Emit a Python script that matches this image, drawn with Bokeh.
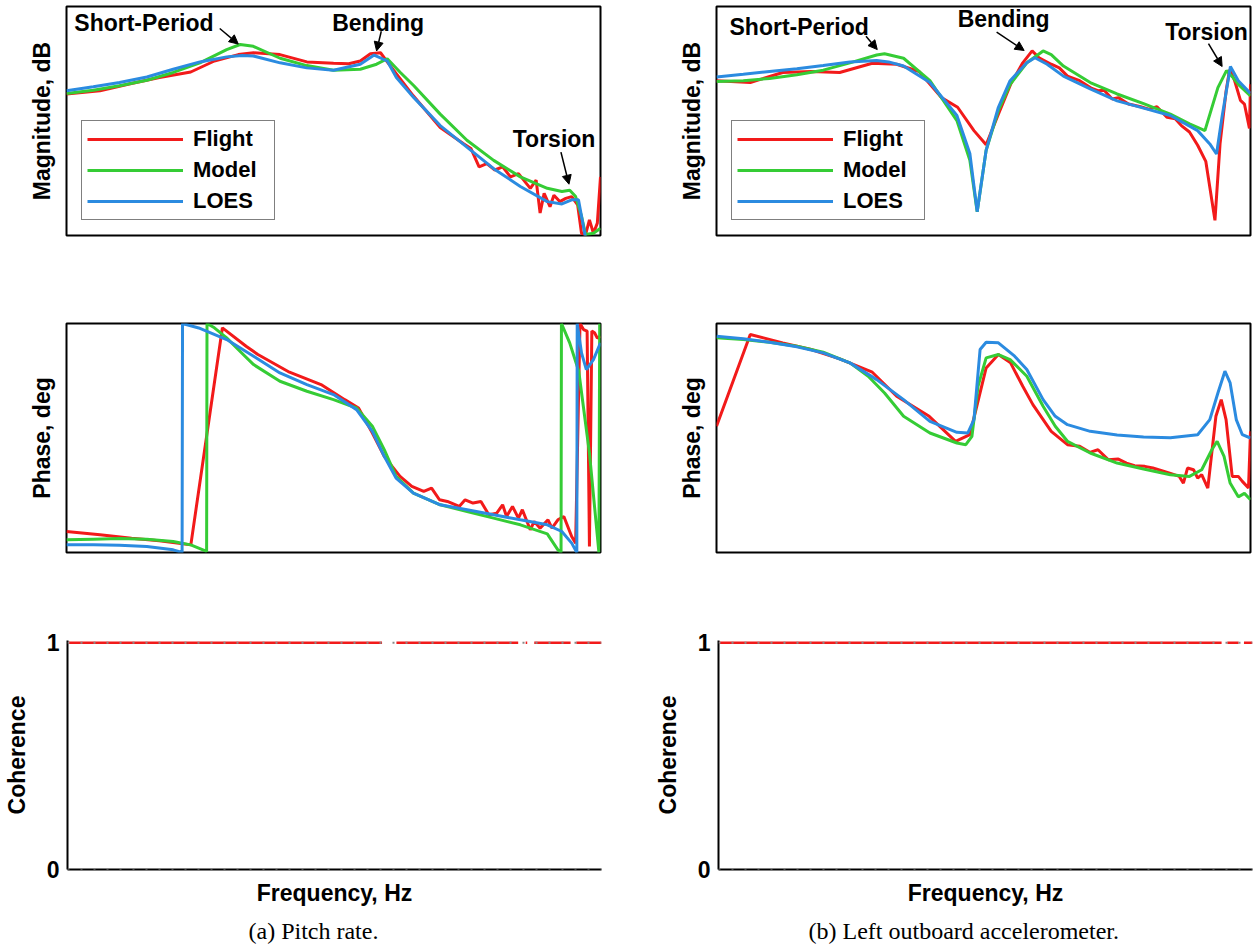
from bokeh.plotting import figure
from bokeh.layouts import column, row
from bokeh.models import (Range1d, Legend, LegendItem, Label, Arrow, NormalHead,
                          Span, Title, FixedTicker)
from bokeh.embed import file_html
from bokeh.resources import INLINE

NaN = float("nan")

# ---------------- (a) Pitch rate: magnitude (dB) ----------------
a_mag_flight_f = [0.1, 0.1335, 0.175, 0.223, 0.292, 0.358, 0.44, 0.502, 0.630, 0.795, 1.0, 1.14, 1.26,
                  1.375, 1.50, 1.60, 1.99, 2.51, 3.06, 3.27, 3.51, 3.75, 4.02, 4.30, 4.60, 4.93, 5.46,
                  5.74, 5.94, 6.15, 6.47, 6.69, 7.04, 7.41, 7.80, 8.21, 8.49, 8.79, 9.09, 9.41, 9.73, 10.0]
a_mag_flight = [-19.1, -18.4, -16.8, -15.5, -14.3, -11.9, -10.5, -10.1, -10.5, -12.1, -12.4, -12.5, -11.9,
                -10.3, -10.1, -12.3, -19.5, -26.4, -29.9, -31.0, -35.0, -34.3, -35.7, -35.0, -37.2, -36.5,
                -39.7, -37.9, -45.1, -40.8, -43.7, -41.2, -42.6, -41.9, -41.5, -43.3, -49.5, -49.8, -46.6,
                -49.5, -47.3, -37.2]
a_mag_model_f = [0.1, 0.126, 0.158, 0.2, 0.251, 0.316, 0.398, 0.447, 0.501, 0.631, 0.794, 1.0, 1.26, 1.45,
                 1.59, 1.78, 2.0, 2.51, 3.16, 3.98, 5.01, 6.32, 7.17, 7.67, 8.07, 8.49, 8.79, 9.41, 10.0]
a_mag_model = [-19.0, -18.3, -17.3, -16.1, -14.4, -12.3, -9.4, -8.3, -8.7, -11.3, -12.9, -13.9, -13.7, -12.6,
               -11.4, -14.4, -17.3, -23.5, -29.2, -33.6, -37.2, -39.7, -40.4, -40.1, -41.5, -45.8, -49.8,
               -49.5, -48.4]
a_mag_loes_f = [0.1, 0.126, 0.158, 0.2, 0.251, 0.316, 0.398, 0.455, 0.501, 0.631, 0.794, 1.0, 1.26, 1.42,
                1.59, 1.72, 2.0, 2.51, 3.16, 3.98, 5.01, 6.32, 7.17, 7.80, 8.27, 8.49, 8.79, 10.0]
a_mag_loes = [-18.4, -17.5, -16.6, -15.4, -13.7, -12.1, -11.0, -10.7, -10.8, -12.3, -13.4, -13.9, -12.6,
              -10.6, -11.9, -15.5, -19.9, -26.0, -30.7, -35.4, -39.3, -42.6, -43.1, -42.2, -42.2, -45.8,
              -50.5, -53.0]

# ---------------- (a) Pitch rate: phase (deg) ----------------
a_ph_flight_f = [0.1, 0.1335, 0.1753, 0.2226, 0.2922, 0.3836, 0.4706, 0.521, 0.684, 0.898, 1.102, 1.241,
                 1.398, 1.549, 1.775, 1.965, 2.177, 2.33, 2.494, 2.670, 2.957, 3.112, 3.331, 3.566, 3.817,
                 4.086, 4.30, 4.448, 4.682, 4.927, 5.097, 5.457, 5.645, 5.94, 6.36, 6.58, 6.925, 7.29, 7.80,
                 8.07, 8.38, 8.64, 8.91, 9.09, 9.28, 9.50, 9.73, 10.0]
a_ph_flight = [-147, -152.2, -157.5, -161.7, -168, 173.2, 144.3, 131.2, 103.4, 84, 60.3, 47.2, 7.9, -28.9,
               -60.4, -76.1, -84, -78.7, -97.1, -99.7, -107.6, -97.1, -102.3, -99.7, -120.7, -118.1, -105,
               -123.3, -107.6, -126, -112.8, -144.3, -131.2, -141.7, -128.6, -141.7, -128.6, -123.3, -154.8,
               -165.3, 180, 170.5, 168, -170.6, 168, 165.4, 157, 160]
a_ph_model_f = [0.1, 0.126, 0.158, 0.2, 0.251, 0.292, 0.3348, 0.3359, 0.358, 0.398, 0.4395, 0.502, 0.630,
                0.795, 1.0, 1.22, 1.398, 1.549, 1.715, 1.992, 2.51, 3.165, 3.976, 5.01, 6.32, 6.925, 7.116,
                7.14, 7.667, 8.29, 9.09, 9.865, 9.93]
a_ph_model = [-160.1, -159.0, -158.0, -159.0, -162.7, -168.0, -178.4, 180, 173.2, 157.4, 139.1, 115.4, 89.2,
              73.5, 60.3, 47.2, 18.4, -18.4, -60.4, -86.6, -105.0, -115.5, -126.0, -136.5, -150.6, -175.8,
              -180, 180, 149.6, 105.0, -23.6, -180, 180]
a_ph_loes_f = [0.1, 0.126, 0.158, 0.2, 0.251, 0.271, 0.272, 0.3128, 0.398, 0.502, 0.630, 0.795, 1.0, 1.22,
               1.398, 1.549, 1.715, 1.992, 2.51, 3.165, 3.976, 5.01, 6.32, 7.165, 7.80, 8.153, 8.18, 8.49,
               8.85, 9.41, 10.0]
a_ph_loes = [-168, -168, -168.5, -170.6, -175.8, -180, 180, 173, 154.8, 128.6, 102.3, 84, 68.2, 44.6, 10.5,
             -28.9, -63, -86.6, -105, -112.8, -120.7, -128.6, -136.5, -147, -165.3, -180, 180, 133.8, 107.6,
             123.3, 149.6]

# ---------------- (a) coherence ----------------
a_coh_f = [0.1, 1.507, 1.51, 1.706, 4.875, 4.9, 5.20, 5.27, 5.3, 5.60, 7.66, 7.7, 8.05, 10.0]
a_coh = [1, 1, NaN, 1, 1, NaN, 1, 1, NaN, 1, 1, NaN, 1, 1]

# ---------------- (b) Left outboard accelerometer: magnitude ----------------
b_mag_flight_f = [0.1, 0.1338, 0.177, 0.2264, 0.2893, 0.3833, 0.473, 0.5736, 0.6956, 0.80, 0.921, 1.023,
                  1.137, 1.263, 1.403, 1.521, 1.614, 1.793, 1.923, 2.063, 2.292, 2.546, 2.684, 2.83, 3.034,
                  3.199, 3.491, 3.879, 4.161, 4.463, 4.872, 5.226, 5.508, 5.908, 6.34, 6.80, 7.36, 7.69,
                  8.10, 8.35, 8.7, 9.17, 9.49, 9.91, 10.0]
b_mag_flight = [-16.2, -16.6, -14.4, -14.2, -14.4, -12.4, -12.6, -14.2, -19.9, -22.0, -27.1, -30.2, -23.5,
                -17.0, -12.3, -9.7, -11.2, -12.6, -13.4, -15.2, -16.2, -17.9, -18.4, -18.3, -20.2, -19.9,
                -21.3, -21.9, -22.4, -21.9, -24.2, -24.5, -26.0, -27.4, -30.3, -33.8, -46.7, -30.0, -18.5,
                -13.8, -16.0, -20.5, -21.3, -26.6, -17.0]
b_mag_model_f = [0.1, 0.126, 0.158, 0.2, 0.251, 0.316, 0.398, 0.426, 0.502, 0.630, 0.795, 0.889, 0.947,
                 1.023, 1.137, 1.258, 1.453, 1.672, 1.793, 1.992, 2.51, 3.165, 3.976, 5.01, 5.91, 6.75,
                 7.55, 8.13, 8.6, 9.0, 10.0]
b_mag_model = [-16.4, -16.2, -15.7, -14.9, -13.9, -12.3, -10.6, -10.3, -11.3, -16.2, -24.9, -33.6, -44.8,
               -31.4, -22.7, -17.0, -12.3, -9.7, -10.5, -13.0, -16.6, -19.1, -21.2, -23.5, -25.6, -27.1,
               -17.7, -14.0, -15.5, -17.0, -19.5]
b_mag_loes_f = [0.1, 0.126, 0.158, 0.2, 0.251, 0.316, 0.398, 0.441, 0.502, 0.630, 0.795, 0.889, 0.947,
                1.023, 1.137, 1.258, 1.453, 1.558, 1.731, 1.992, 2.51, 3.165, 3.976, 5.01, 6.34, 7.04, 7.46,
                7.82, 8.41, 9.0, 10.0]
b_mag_loes = [-15.4, -14.8, -14.2, -13.6, -12.9, -12.1, -11.8, -12.1, -13.0, -16.6, -23.8, -32.1, -44.8,
              -31.4, -22.0, -16.2, -12.3, -11.2, -12.6, -15.2, -18.0, -20.6, -22.2, -23.8, -27.1, -30.0,
              -32.2, -24.2, -13.1, -16.2, -19.0]

# ---------------- (b) phase ----------------
b_ph_flight_f = [0.1, 0.1338, 0.177, 0.2264, 0.2893, 0.3833, 0.473, 0.626, 0.786, 0.889, 1.023, 1.137,
                 1.263, 1.403, 1.531, 1.793, 2.063, 2.292, 2.502, 2.684, 2.93, 3.199, 3.43, 3.68, 4.018,
                 4.31, 4.62, 5.05, 5.41, 5.607, 5.81, 6.12, 6.34, 6.565, 6.92, 7.42, 7.77, 8.10, 8.54, 9.0,
                 9.32, 9.83, 10.0]
b_ph_flight = [18.4, 162.7, 149.6, 139.1, 124.4, 103.4, 65.6, 34.1, -5.2, 5.2, 110.2, 131.2, 118.1, 81.3,
               52.5, 10.5, -10.5, -13.1, -22.5, -18.4, -34.1, -33.1, -39.4, -43.6, -44.6, -47.2, -50.9,
               -56.1, -60.4, -70.9, -47.2, -49.9, -63, -57.7, -78.7, 34.1, 60.3, 28.9, -60.4, -60.4, -68.2,
               -78.7, 10.5]
b_ph_model_f = [0.1, 0.126, 0.158, 0.2, 0.251, 0.316, 0.370, 0.426, 0.502, 0.630, 0.795, 0.8585, 0.905,
                0.954, 1.023, 1.137, 1.258, 1.453, 1.672, 1.857, 2.063, 2.51, 3.165, 3.976, 5.01, 5.908,
                6.565, 7.165, 7.50, 7.96, 8.39, 9.0, 9.49, 10.0]
b_ph_model = [157.4, 154.8, 150.6, 144.3, 134.8, 118.1, 97.1, 70.8, 34.1, 7.9, -7.9, -10.5, 2.6, 81.3,
              125.9, 131.2, 123.3, 97.1, 50.0, 18.4, -5.2, -23.6, -39.4, -48.8, -57.7, -60.4, -49.9, -18.4,
              -5.2, -28.9, -70.9, -92.5, -87.1, -97.1]
b_ph_loes_f = [0.1, 0.126, 0.158, 0.2, 0.251, 0.316, 0.398, 0.502, 0.630, 0.795, 0.874, 0.921, 0.971,
               1.023, 1.137, 1.308, 1.453, 1.672, 1.857, 2.063, 2.51, 3.165, 3.976, 5.01, 6.34, 7.04, 7.55,
               8.02, 8.39, 8.845, 9.32, 10.0]
b_ph_loes = [160.1, 155.9, 150.6, 143.3, 133.8, 118.1, 91.8, 60.3, 26.2, 8.9, 7.9, 28.9, 139.1, 150.6,
             149.6, 128.6, 107.6, 60.3, 34.1, 21.0, 10.5, 4.7, 1.6, 0.5, 5.2, 28.9, 70.8, 105.0, 86.6, 28.9,
             5.2, 0.0]

# ---------------- (b) coherence ----------------
b_coh_f = [0.1, 7.66, 7.7, 8.05, 8.87, 8.9, 9.29, 10.0]
b_coh = [1, 1, NaN, 1, 1, NaN, 1, 1]

series_names = ["Flight", "Model", "LOES"]
captions = ["(a) Pitch rate.", "(b) Left outboard accelerometer."]
# annotations: (text, text_f, text_y, arrow start f, y, arrow end f, y)
a_notes = [("Short-Period", 0.195, -3.6, 0.375, -4.8, 0.44, -8.2),
           ("Bending", 1.47, -3.5, 1.51, -5.4, 1.45, -9.7),
           ("Torsion", 6.70, -29.0, 7.11, -31.8, 7.62, -38.8)]
b_notes = [("Short-Period", 0.204, -4.4, 0.363, -6.5, 0.40, -9.4),
           ("Bending", 1.19, -2.8, 1.12, -5.6, 1.42, -9.6),
           ("Torsion", 6.84, -5.5, 6.96, -8.1, 7.83, -13.1)]

RED = "#f21a1a"
GREEN = "#35cc35"
BLUE = "#2b8be0"
FONT = "Liberation Sans"
SERIF = "Liberation Serif"
FS = "23px"
LFS = "22px"


def base_fig(yr, right_border, top, bottom):
    p = figure(frame_width=534, frame_height=229, x_axis_type="log",
               x_range=Range1d(0.1, 10), y_range=Range1d(*yr),
               output_backend="svg", toolbar_location=None,
               min_border_left=66, min_border_right=right_border,
               min_border_top=top, min_border_bottom=bottom)
    p.grid.visible = False
    p.background_fill_color = "white"
    p.border_fill_color = "white"
    for ax in (p.xaxis[0], p.yaxis[0]):
        ax.major_tick_out = 0
        ax.major_tick_in = 0
        ax.minor_tick_out = 0
        ax.minor_tick_in = 0
        ax.minor_tick_line_color = None
        ax.major_tick_line_color = None
        ax.axis_label_text_font = FONT
        ax.axis_label_text_font_style = "bold"
        ax.axis_label_text_font_size = FS
        ax.axis_label_text_color = "black"
        ax.major_label_text_font = FONT
        ax.major_label_text_font_style = "bold"
        ax.major_label_text_font_size = FS
        ax.major_label_text_color = "black"
    p.xaxis[0].ticker = FixedTicker(ticks=[])
    return p


def bode(ff, fv, mf, mv, lf, lv, yr, ylabel, rb, bottom, legend, notes):
    p = base_fig(yr, rb, 6, bottom)
    p.outline_line_color = "black"
    p.outline_line_width = 2
    p.outline_line_alpha = 1
    r1 = p.line(ff, fv, line_color=RED, line_width=3)
    r2 = p.line(mf, mv, line_color=GREEN, line_width=3)
    r3 = p.line(lf, lv, line_color=BLUE, line_width=3)
    p.xaxis.visible = False
    ya = p.yaxis[0]
    ya.ticker = FixedTicker(ticks=[])
    ya.axis_label = ylabel
    ya.axis_line_color = None
    ya.major_label_standoff = 0
    ya.axis_label_standoff = 12
    if legend:
        lg = Legend(items=[LegendItem(label=series_names[0], renderers=[r1]),
                           LegendItem(label=series_names[1], renderers=[r2]),
                           LegendItem(label=series_names[2], renderers=[r3])],
                    location=(15, 15), orientation="vertical",
                    glyph_width=96, glyph_height=22, label_height=22, label_width=76,
                    spacing=5, padding=5, label_standoff=10, margin=0,
                    label_text_font=FONT, label_text_font_style="bold",
                    label_text_font_size=LFS, label_text_color="black",
                    border_line_color="black", border_line_width=1.5,
                    background_fill_color="white", background_fill_alpha=1)
        p.add_layout(lg)
    if notes:
        for (t, tx, ty, sx, sy, ex, ey) in notes:
            p.add_layout(Label(x=tx, y=ty, text=t, text_align="center", text_baseline="middle",
                               text_font=FONT, text_font_style="bold", text_font_size=FS,
                               text_color="black"))
            p.add_layout(Arrow(end=NormalHead(size=9, fill_color="black", line_color="black",
                                              line_width=1),
                               x_start=sx, y_start=sy, x_end=ex, y_end=ey,
                               line_color="black", line_width=1.5))
    return p


def coh(cf, cv, rb, caption, cap_offset):
    p = base_fig((0, 1.01), rb, 16, 81)
    p.outline_line_color = None
    for loc in (1, 0):
        p.add_layout(Span(location=loc, dimension="width", line_color="#8a8a8a",
                          line_width=2, line_dash="2 11"))
    p.line(cf, cv, line_color=RED, line_width=2.5)
    ya = p.yaxis[0]
    ya.ticker = FixedTicker(ticks=[0, 1])
    ya.axis_label = "Coherence"
    ya.axis_line_width = 2
    ya.axis_line_color = "black"
    ya.major_label_standoff = 8
    ya.axis_label_standoff = 14
    xa = p.xaxis[0]
    xa.axis_label = "Frequency, Hz"
    xa.axis_line_width = 2
    xa.axis_line_color = "black"
    xa.major_label_standoff = 0
    xa.axis_label_standoff = 10
    p.add_layout(Title(text=caption, align="left", text_font=SERIF, text_font_size="24px",
                       text_font_style="normal", text_color="black", standoff=14,
                       offset=cap_offset), "below")
    return p


pa_mag = bode(a_mag_flight_f, a_mag_flight, a_mag_model_f, a_mag_model, a_mag_loes_f, a_mag_loes,
              (-50, 0), "Magnitude, dB", 50, 82, True, a_notes)
pb_mag = bode(b_mag_flight_f, b_mag_flight, b_mag_model_f, b_mag_model, b_mag_loes_f, b_mag_loes,
              (-50, 0), "Magnitude, dB", 6, 82, True, b_notes)
pa_ph = bode(a_ph_flight_f, a_ph_flight, a_ph_model_f, a_ph_model, a_ph_loes_f, a_ph_loes,
             (-180, 180), "Phase, deg", 50, 72, False, None)
pb_ph = bode(b_ph_flight_f, b_ph_flight, b_ph_model_f, b_ph_model, b_ph_loes_f, b_ph_loes,
             (-180, 180), "Phase, deg", 6, 72, False, None)
pa_coh = coh(a_coh_f, a_coh, 50, captions[0], 181)
pb_coh = coh(b_coh_f, b_coh, 6, captions[1], 90)

layout = column(row(pa_mag, pb_mag), row(pa_ph, pb_ph), row(pa_coh, pb_coh))

with open("out.html", "w") as fh:
    fh.write(file_html(layout, INLINE, title="Bode comparison"))
